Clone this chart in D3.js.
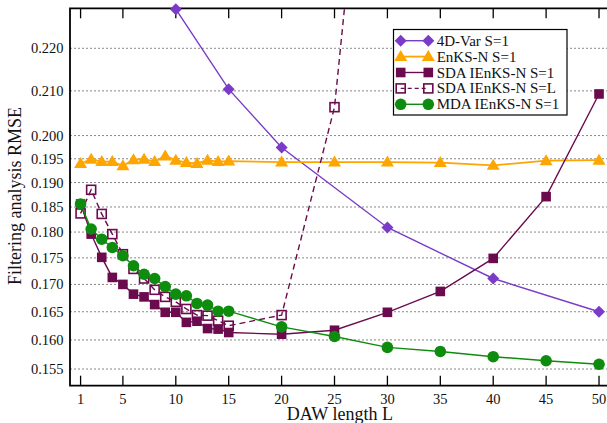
<!DOCTYPE html>
<html><head><meta charset="utf-8">
<script src="https://cdn.jsdelivr.net/npm/d3@7"></script>
<style>
html,body{margin:0;padding:0;background:#fff;}
svg{display:block;font-family:"Liberation Serif","Times New Roman",serif;}
</style></head>
<body>
<svg id="c" width="607" height="423"></svg>
<script>
// ---------- data ----------
const xTicks = [1,5,10,15,20,25,30,35,40,45,50];
const yTicks = [0.155,0.160,0.165,0.170,0.175,0.180,0.185,0.190,0.195,0.200,0.210,0.220];

const L_var = [10,15,20,30,40,50];
const v_var = [0.2296,0.2104,0.1974,0.1809,0.1711,0.1650];

const L_full = [1,2,3,4,5,6,7,8,9,10,11,12,13,14,15,20,25,30,35,40,45,50];
const v_enks = [0.1940,0.1949,0.1944,0.1944,0.1935,0.1948,0.1949,0.1944,0.1956,0.1947,0.1942,0.1940,0.1947,0.1944,0.1945,0.1943,0.1943,0.1943,0.1942,0.1936,0.1946,0.1947];
const v_sda1 = [0.1856,0.1796,0.1751,0.1713,0.1700,0.1682,0.1677,0.1663,0.1649,0.1649,0.1631,0.1633,0.1620,0.1619,0.1613,0.1610,0.1617,0.1649,0.1687,0.1749,0.1871,0.2093];

const L_sdaL = [1,2,3,4,5,6,7,8,9,10,11,12,13,14,15,20,25,30];
const v_sdaL = [0.1837,0.1885,0.1836,0.1796,0.1757,0.1729,0.1711,0.1690,0.1677,0.1668,0.1655,0.1644,0.1643,0.1634,0.1625,0.1644,0.2063,0.366];

const L_mda = L_full;
const v_mda = [0.1856,0.1806,0.1786,0.1770,0.1754,0.1735,0.1719,0.1711,0.1696,0.1682,0.1679,0.1665,0.1662,0.1651,0.1651,0.1623,0.1606,0.1587,0.1580,0.1571,0.1564,0.1558];

const names = ["4D-Var S=1","EnKS-N S=1","SDA IEnKS-N S=1","SDA IEnKS-N S=L","MDA IEnKS-N S=1"];
const colors = ["#7b3bc9","#ffa500","#6b0b4e","#6b0b4e","#0e8c0e"];

(function(){
// ---------- layout ----------
const svg = d3.select("#c");
const pL = 70, pR = 609.6, pT = 8.3, pB = 385.7;
const x = d3.scaleLinear().domain([0,51]).range([pL,pR]);
const y = d3.scaleLog().domain([0.15220,0.22982]).range([pB,pT]);

svg.append("defs").append("clipPath").attr("id","clip")
  .append("rect").attr("x",pL).attr("y",pT).attr("width",pR-pL).attr("height",pB-pT);

// gridlines
svg.append("g").selectAll("line").data(yTicks).join("line")
  .attr("x1",pL).attr("x2",pR).attr("y1",d=>y(d)).attr("y2",d=>y(d))
  .attr("stroke","#888").attr("stroke-width",1).attr("stroke-dasharray","2,2");

// y tick labels
svg.append("g").selectAll("text").data(yTicks).join("text")
  .attr("x",63.5).attr("y",d=>y(d)+5).attr("text-anchor","end")
  .attr("font-size",14.5).attr("fill","#111").text(d=>d.toFixed(3));

// x ticks (bottom and top, inward)
const xa = svg.append("g");
xa.selectAll("line.b").data(xTicks).join("line").attr("class","b")
  .attr("x1",d=>x(d)).attr("x2",d=>x(d)).attr("y1",pB).attr("y2",pB-10)
  .attr("stroke","#000").attr("stroke-width",1.3);
xa.selectAll("line.t").data(xTicks).join("line").attr("class","t")
  .attr("x1",d=>x(d)).attr("x2",d=>x(d)).attr("y1",pT).attr("y2",pT+10)
  .attr("stroke","#000").attr("stroke-width",1.3);
xa.selectAll("text").data(xTicks).join("text")
  .attr("x",d=>x(d)).attr("y",404).attr("text-anchor","middle")
  .attr("font-size",14.5).attr("fill","#111").text(d=>d);

// frame
svg.append("path").attr("d",`M${pR},${pT}H${pL}V${pB}H${pR}V${pT}`)
  .attr("fill","none").attr("stroke","#000").attr("stroke-width",1.8);

// axis titles
svg.append("text").attr("x",(pL+pR)/2).attr("y",419.5).attr("text-anchor","middle")
  .attr("font-size",18).attr("fill","#111").text("DAW length L");
svg.append("text").attr("transform","translate(21,196) rotate(-90)").attr("text-anchor","middle")
  .attr("font-size",18).attr("fill","#111").text("Filtering analysis RMSE");

// ---------- markers ----------
function marker(g, type, cx, cy, color){
  if(type==="diamond"){
    g.append("path").attr("d",`M${cx},${cy-6}L${cx+6},${cy}L${cx},${cy+6}L${cx-6},${cy}Z`).attr("fill",color);
  } else if(type==="triangle"){
    g.append("path").attr("d",`M${cx},${cy-6.5}L${cx+6.5},${cy+4.5}L${cx-6.5},${cy+4.5}Z`).attr("fill",color);
  } else if(type==="square"){
    g.append("rect").attr("x",cx-4.8).attr("y",cy-4.8).attr("width",9.6).attr("height",9.6).attr("fill",color);
  } else if(type==="osquare"){
    g.append("rect").attr("x",cx-4.5).attr("y",cy-4.5).attr("width",9).attr("height",9)
      .attr("fill","none").attr("stroke",color).attr("stroke-width",1.6);
  } else if(type==="circle"){
    g.append("circle").attr("cx",cx).attr("cy",cy).attr("r",5.8).attr("fill",color);
  }
}

const series = [
  {L:L_var, v:v_var, type:"diamond", w:1.4, dash:null},
  {L:L_full, v:v_enks, type:"triangle", w:1.8, dash:null},
  {L:L_full, v:v_sda1, type:"square", w:1.4, dash:null},
  {L:L_sdaL, v:v_sdaL, type:"osquare", w:1.4, dash:"6,4"},
  {L:L_mda, v:v_mda, type:"circle", w:1.4, dash:null}
];
const line = d3.line().x(d=>x(d[0])).y(d=>y(d[1]));
const [ymin,ymax] = y.domain();
series.forEach((s,i)=>{
  const g = svg.append("g");
  const pts = s.L.map((l,k)=>[l,s.v[k]]);
  g.append("path").attr("d",line(pts)).attr("fill","none").attr("stroke",colors[i])
    .attr("stroke-width",s.w).attr("stroke-dasharray",s.dash).attr("clip-path","url(#clip)");
  pts.forEach(p=>{ if(p[1]>=ymin && p[1]<=ymax) marker(g,s.type,x(p[0]),y(p[1]),colors[i]); });
});

// ---------- legend ----------
const lg = svg.append("g");
lg.append("rect").attr("x",393.5).attr("y",29.5).attr("width",173.5).attr("height",85.5)
  .attr("fill","#fff").attr("stroke","#000").attr("stroke-width",1.2);
names.forEach((n,i)=>{
  const cy = 40.7 + i*15.9;
  const s = series[i];
  lg.append("line").attr("x1",400.7).attr("x2",428.3).attr("y1",cy).attr("y2",cy)
    .attr("stroke",colors[i]).attr("stroke-width",s.w).attr("stroke-dasharray",s.dash?"4,3":null);
  marker(lg,s.type,400.7,cy,colors[i]);
  marker(lg,s.type,428.3,cy,colors[i]);
  lg.append("text").attr("x",436.7).attr("y",cy+5).attr("font-size",15).attr("fill","#111").text(n);
});
})();
</script>
</body></html>
